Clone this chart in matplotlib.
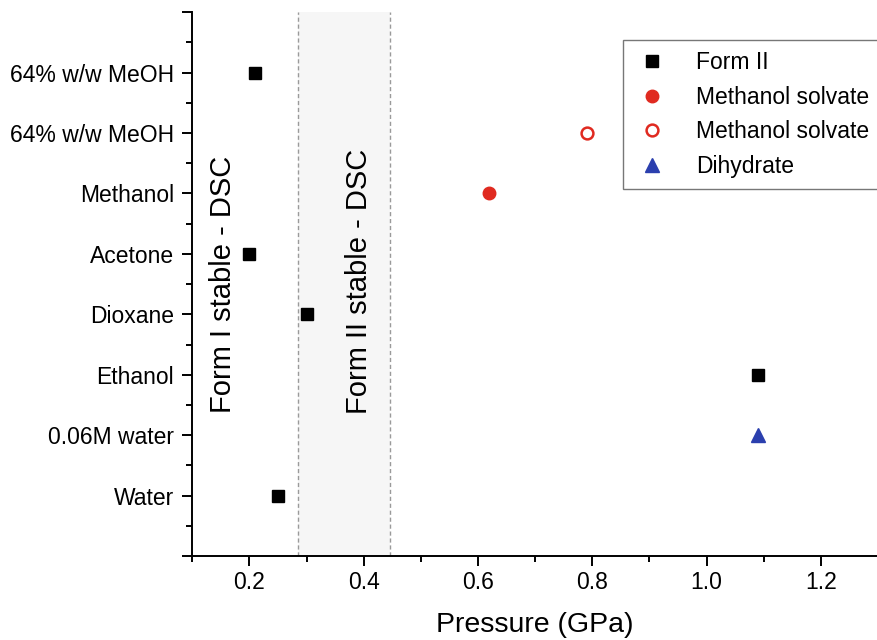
import matplotlib
matplotlib.use("Agg")
from matplotlib import pyplot as plt
from matplotlib.lines import Line2D

plt.rcParams['font.family'] = ['Liberation Sans', 'DejaVu Sans']

# category labels, bottom (y=1) to top (y=8)
categories = ["Water", "0.06M water", "Ethanol", "Dioxane", "Acetone",
              "Methanol", "64% w/w MeOH", "64% w/w MeOH"]

# pressure (GPa) per series, with the category row they sit on
form2_y = [8, 5, 4, 3, 1]
form2_p = [0.21, 0.20, 0.30, 1.09, 0.25]
meoh_filled_y = [6]
meoh_filled_p = [0.62]
meoh_open_y = [7]
meoh_open_p = [0.79]
dihydrate_y = [2]
dihydrate_p = [1.09]

# Form I / Form II boundary band from DSC (GPa)
band_lo, band_hi = 0.285, 0.446

RED = "#e02a20"
BLUE = "#2b3fae"

fig = plt.figure(figsize=(8.78, 6.4), dpi=100)
ax = fig.add_axes([0.219, 0.131, 0.781, 0.85])

ax.axvspan(band_lo, band_hi, color="#f6f6f6", zorder=0, lw=0)
for xv in (band_lo, band_hi):
    ax.axvline(xv, color="#9a9a9a", lw=1, ls=(0, (3, 2)), zorder=1)

ax.plot(form2_p, form2_y, "s", color="black", ms=8.5, ls="none", zorder=3)
ax.plot(meoh_filled_p, meoh_filled_y, "o", color=RED, ms=9, ls="none", zorder=3)
ax.plot(meoh_open_p, meoh_open_y, "o", mfc="white", mec=RED, mew=1.8, ms=8.5,
        ls="none", zorder=3)
ax.plot(dihydrate_p, dihydrate_y, "^", color=BLUE, ms=10, ls="none", zorder=3)

ax.text(0.153, 4.5, "Form I stable - DSC", rotation=90, fontsize=21,
        ha="center", va="center")
ax.text(0.392, 4.55, "Form II stable - DSC", rotation=90, fontsize=21,
        ha="center", va="center")

ax.set_xlim(0.1, 1.3)
ax.set_ylim(0, 9)
ax.set_xticks([0.2, 0.4, 0.6, 0.8, 1.0, 1.2])
ax.set_xticks([0.1, 0.3, 0.5, 0.7, 0.9, 1.1, 1.3], minor=True)
ax.set_yticks(range(0, 10))
ax.set_yticklabels([""] + categories + [""])
ax.set_yticks([i + 0.5 for i in range(9)], minor=True)
ax.set_xlabel("Pressure (GPa)", fontsize=20.5, labelpad=13)

for s in ("top", "right"):
    ax.spines[s].set_visible(False)
for s in ("left", "bottom"):
    ax.spines[s].set_linewidth(1.4)
ax.tick_params(axis="both", which="major", length=7, width=1.4,
               labelsize=16.5, pad=6)
ax.tick_params(axis="x", which="major", pad=4)
ax.tick_params(axis="both", which="minor", length=4.5, width=1.4)

handles = [
    Line2D([], [], marker="s", color="black", ls="none", ms=8.5),
    Line2D([], [], marker="o", color=RED, ls="none", ms=9),
    Line2D([], [], marker="o", mfc="white", mec=RED, mew=1.8, ls="none", ms=8.5),
    Line2D([], [], marker="^", color=BLUE, ls="none", ms=10),
]
labels = ["Form II", "Methanol solvate", "Methanol solvate", "Dihydrate"]
leg = ax.legend(handles, labels, loc="upper left", bbox_to_anchor=(0.628, 0.949),
                borderaxespad=0, fontsize=16.5, frameon=True, fancybox=False,
                edgecolor="#555555", handlelength=1.5, handletextpad=1.2,
                borderpad=0.5, labelspacing=0.5)
leg.get_frame().set_linewidth(1.0)

fig.savefig("out.png", dpi=100)
